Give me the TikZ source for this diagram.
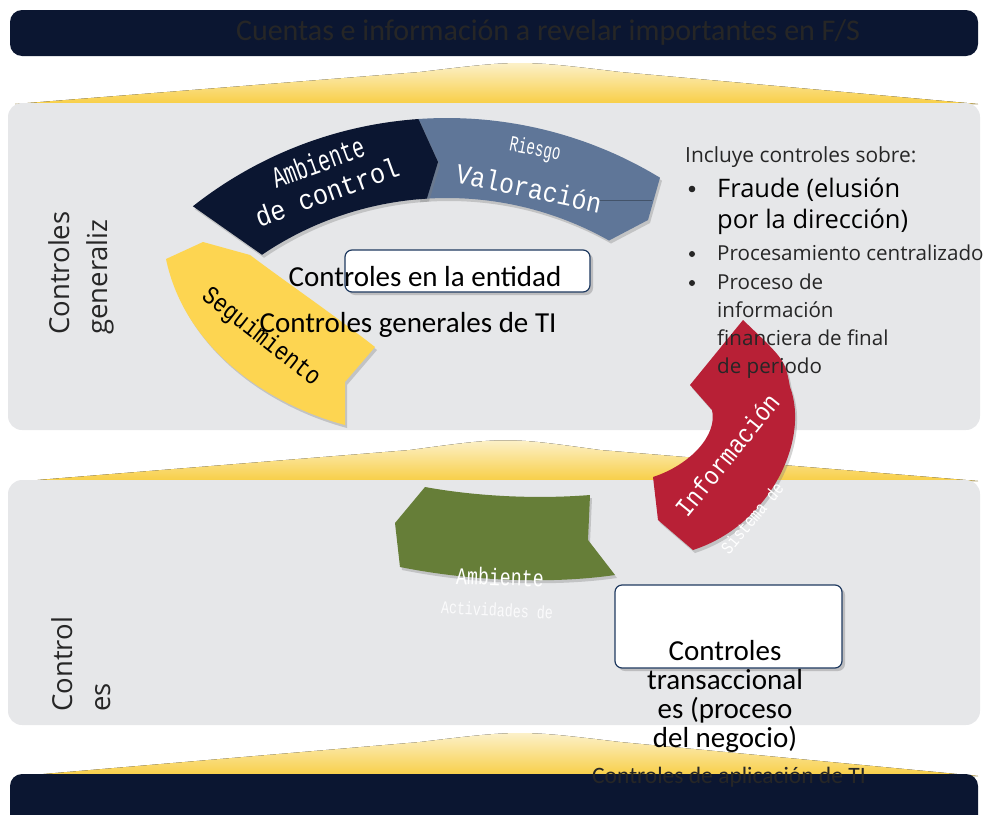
\documentclass[tikz,border=0pt]{standalone}
\usepackage{graphicx}
\usepackage{fontspec}
\setmainfont{Carlito}
\newfontfamily\osans{Open Sans}
\newfontfamily\monof{Liberation Mono}
\usetikzlibrary{shadows}

\definecolor{navybar}{HTML}{0B1631}
\definecolor{panelgray}{HTML}{E6E7E9}
\definecolor{moundgold}{HTML}{F8CE45}
\definecolor{moundlight}{HTML}{FCF3D2}
\definecolor{slateblue}{HTML}{5F7698}
\definecolor{arcred}{HTML}{B82036}
\definecolor{arcgreen}{HTML}{667E38}
\definecolor{arcyellow}{HTML}{FDD551}
\definecolor{boxline}{HTML}{1F3A60}
\definecolor{txtgray}{HTML}{262626}

\newcommand{\sq}[2]{\scalebox{#1}[1]{#2}}
\newcommand{\fs}[2]{\fontsize{#1}{#2}\selectfont}

\tikzset{
  panel/.style={fill=panelgray, rounded corners=14pt},
  mound/.style={top color=moundlight, bottom color=moundgold},
  bar/.style={fill=navybar, rounded corners=12pt},
  seg/.style={drop shadow={shadow xshift=2pt, shadow yshift=-3pt, opacity=.35}},
  dots/.style={font=\monof, text=white, inner sep=0pt},
  whitebox/.style={fill=white, draw=boxline, line width=1.2pt, rounded corners=7pt,
    drop shadow={shadow xshift=3pt, shadow yshift=-3pt, opacity=.4}},
  vlabel/.style={rotate=90, anchor=west, align=left, inner sep=0pt, text=txtgray,
    font=\osans\fs{27.5}{38}},
  listline/.style={anchor=base west, inner sep=0pt, text=txtgray},
}

\begin{document}
\begin{tikzpicture}[x=1pt, y=-1pt]
    \useasboundingbox (0,0) rectangle (988,814);

    % yellow mounds
    \fill[mound] (15,104) -- (420,72) .. controls (520,60) .. (620,72) -- (978,104) -- cycle;
    \fill[mound] (25,481) -- (410,450) .. controls (506,437) .. (600,450) -- (978,481) -- cycle;
    \fill[mound] (20,776) -- (420,742) .. controls (520,730) .. (620,742) -- (978,776) -- cycle;

    % panels and bars
    \fill[panel] (8,103) rectangle (980,430);
    \fill[panel] (8,480) rectangle (980,725);
    \fill[bar] (10,10) rectangle (978,56);
    \fill[bar] (10,774) rectangle (978,840);

    % ring pieces
    \fill[slateblue, seg] plot[domain=-94:-58.7, samples=40] ({447+410*cos(\x)},{528+410*sin(\x)})
        -- (648,220) -- plot[domain=-60.6:-95, samples=40] ({447+330*cos(\x)},{528+330*sin(\x)}) -- cycle;
    \draw[slateblue!70!black, thin] (597,200) -- (652,200);
    \fill[navybar, seg] plot[domain=-128.3:-94, samples=40] ({447+410*cos(\x)},{528+410*sin(\x)})
        -- (438,162) -- plot[domain=-93.5:-124.1, samples=40] ({447+330*cos(\x)},{528+330*sin(\x)}) -- cycle;
    \fill[arcyellow, seg] (166,259) -- (203,242) -- (250,255) .. controls (290,285) and (330,312) .. (375,347)
        -- (345,382) -- (345,425) .. controls (270,405) and (185,350) .. (166,259) -- cycle;
    \fill[arcgreen, seg] (425,487) .. controls (480,497) and (540,499) .. (590,495) -- (588,540) -- (615,575)
        .. controls (560,583) and (480,583) .. (400,567) -- (395,523) -- cycle;
    \fill[arcred, seg] (743,320) -- (690,385) -- (712,410) .. controls (718,435) and (690,465) .. (653,477)
        -- (658,520) -- (693,550) .. controls (770,525) and (810,440) .. (790,387) .. controls (785,360) .. (743,320) -- cycle;

    % white boxes
    \draw[whitebox] (345,250) rectangle (590,292);
    \draw[whitebox] (615,585) rectangle (842,668);

    % labels on the ring
    \node[dots, rotate=20] (amb) at (318,162) {\fs{30}{30}\sq{.67}{Ambiente}};
    \node[dots, rotate=20] (decontrol) at (327,192) {\fs{28}{28}\sq{.9}{de control}};
    \node[dots, rotate=-11] (riesgo) at (535,150) {\fs{22}{22}\sq{.65}{Riesgo}};
    \node[dots, rotate=-12] (valor) at (529,188) {\fs{28}{28}\sq{.88}{Valoración}};
    \node[dots, rotate=-38, text=black] (segui) at (261,337) {\fs{26}{26}\sq{.83}{Seguimiento}};
    \node[dots, rotate=51] (info) at (727,455) {\fs{26}{26}\sq{.87}{Información}};
    \node[dots, rotate=50] (sistema) at (752,518) {\fs{18}{18}\sq{.8}{Sistema de}};
    \node[dots, rotate=-2] (ambverde) at (500,577) {\fs{24}{24}\sq{.76}{Ambiente}};
    \node[dots, rotate=-3, text=white!85!panelgray] (activ) at (497,610) {\fs{18}{18}\sq{.74}{Actividades de}};

    % texts
    \node[font=\fs{30}{30}, text=black!85] (titulo) at (548,33) {Cuentas e información a revelar importantes en F/S};
    \node[vlabel] (generaliz) at (81,335) {Controles\\generaliz};
    \node[vlabel] (controles) at (81,712) {Control\\es};
    \node[font=\fs{29}{29}] (entidad) at (425,277) {Controles en la entidad};
    \node[font=\fs{29}{29}] (generalti) at (408,325) {Controles generales de TI};
    \node[align=center, font=\fs{29}{29}] (transacc) at (725,696) {Controles\\transaccional\\es (proceso\\del negocio)};
    \node[font=\fs{23.5}{23.5}, text=black!85] (aplic) at (729,777) {Controles de aplicación de TI};

    % list on the right
    \node[listline, font=\osans\fs{20.9}{25}] (incluye) at (685,162) {Incluye controles sobre:};
    \node[listline, font=\osans\fs{25.5}{30}, text=black] (fraude) at (717,197) {Fraude (elusión};
    \node[listline, font=\osans\fs{25.5}{30}, text=black] (direccion) at (717,228) {por la dirección)};
    \node[listline, font=\osans\fs{20.6}{25}] (proces) at (717,260) {Procesamiento centralizado};
    \node[listline, font=\osans\fs{20.6}{25}] (proceso) at (717,289) {Proceso de};
    \node[listline, font=\osans\fs{20.6}{25}] (informacion) at (717,317) {información};
    \node[listline, font=\osans\fs{20.6}{25}] (financiera) at (717,345) {financiera de final};
    \node[listline, font=\osans\fs{20.6}{25}] (periodo) at (717,373) {de periodo};
    \fill[txtgray] (692,189) circle (3.3pt);
    \fill[txtgray] (692,254) circle (3pt);
    \fill[txtgray] (692,283) circle (3pt);
\end{tikzpicture}
\end{document}
